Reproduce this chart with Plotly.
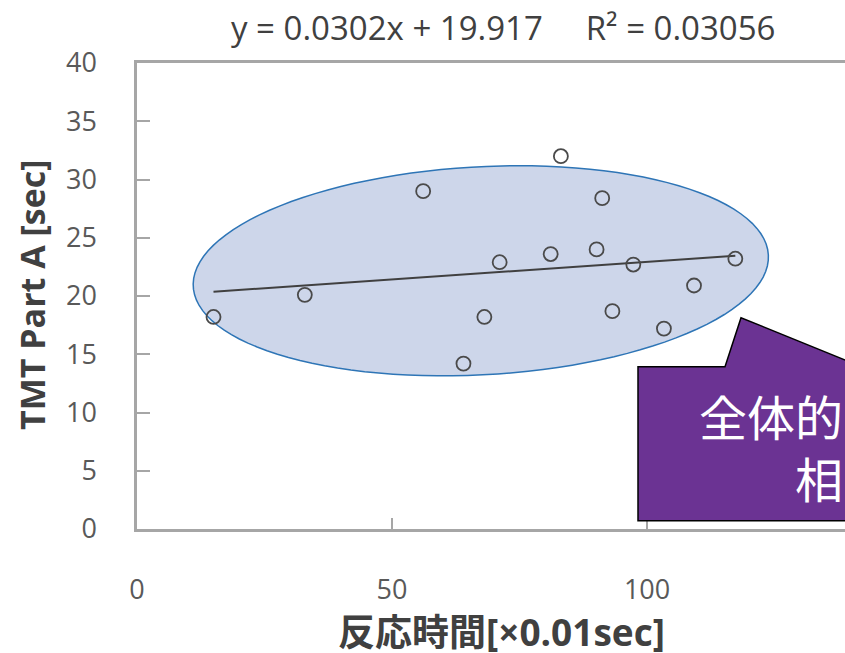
import numpy as np
import plotly.graph_objects as go

# Reaction time [x0.01 sec] vs. TMT Part A completion time [sec]
reaction_time = [15.0, 32.9, 56.1, 64.0, 68.1, 71.1, 81.1, 83.1, 90.1, 91.2, 93.2, 97.3, 103.3, 109.2, 117.3]
tmt_part_a = [18.2, 20.1, 29.0, 14.2, 18.2, 22.9, 23.6, 32.0, 24.0, 28.4, 18.7, 22.7, 17.2, 20.9, 23.2]

# Linear trendline as reported
slope = 0.0302
intercept = 19.917
r_squared = 0.03056

x_ticks = [0, 50, 100, 150]
y_ticks = [0, 5, 10, 15, 20, 25, 30, 35, 40]

W, H = 845, 653
L, T, PW, PH = 137, 63, 708, 466
X_MAX = 138.8


def px_x(p):
    return (p - L) / PW


def px_y(p):
    return (T + PH - p) / PH


fig = go.Figure()

# Highlight ellipse around the point cloud
cx, cy, a, b, ang = 480.8, 270.8, 288.0, 104.0, np.deg2rad(-3.16)
t = np.linspace(0, 2 * np.pi, 120)
ex = cx + a * np.cos(t) * np.cos(ang) - b * np.sin(t) * np.sin(ang)
ey = cy + a * np.cos(t) * np.sin(ang) + b * np.sin(t) * np.cos(ang)
path = "M " + " L ".join(f"{px_x(u):.5f},{px_y(v):.5f}" for u, v in zip(ex, ey)) + " Z"
fig.add_shape(type="path", path=path, xref="paper", yref="paper",
              fillcolor="#CDD6EA", line=dict(color="#2E75B6", width=1.5), layer="below")

# Trendline over the data range
xs = np.array([min(reaction_time), max(reaction_time)])
fig.add_trace(go.Scatter(x=xs, y=slope * xs + intercept, mode="lines",
                         line=dict(color="#404040", width=2), hoverinfo="skip", showlegend=False))

fig.add_trace(go.Scatter(x=reaction_time, y=tmt_part_a, mode="markers",
                         marker=dict(symbol="circle-open", size=14, color="#4a4a4a",
                                     line=dict(width=1.8, color="#4a4a4a")),
                         showlegend=False))

# Callout box
callout = [(638, 366.7), (725, 366.7), (741, 317.7), (861.5, 366.7),
           (1100, 366.7), (1100, 520.7), (638, 520.7)]
cpath = "M " + " L ".join(f"{px_x(u):.5f},{px_y(v):.5f}" for u, v in callout) + " Z"
fig.add_shape(type="path", path=cpath, xref="paper", yref="paper",
              fillcolor="#6B3393", line=dict(color="#000000", width=1.5), layer="above")
fig.add_annotation(text="全体的に弱い<br>相関", xref="paper", yref="paper",
                   x=px_x(697), y=px_y(446), xanchor="left", yanchor="middle",
                   align="center", showarrow=False,
                   font=dict(family="Noto Sans CJK JP", size=48, color="#FFFFFF"))

# Equation text
fig.add_annotation(text=f"y = {slope}x + {intercept}     R² = {r_squared}",
                   xref="paper", yref="paper", x=px_x(503), y=px_y(28),
                   xanchor="center", yanchor="middle", showarrow=False,
                   font=dict(family="Open Sans", size=33, color="#404040"))

# Axis titles
fig.add_annotation(text="<b>反応時間[×0.01sec]</b>", xref="paper", yref="paper",
                   x=px_x(501), y=px_y(631), xanchor="center", yanchor="middle",
                   showarrow=False,
                   font=dict(family="Open Sans, Noto Sans CJK JP", size=37, color="#404040"))
fig.add_annotation(text="<b>TMT Part A [sec]</b>", xref="paper", yref="paper",
                   x=px_x(32), y=px_y(295), xanchor="center", yanchor="middle",
                   textangle=-90, showarrow=False,
                   font=dict(family="Open Sans", size=34, color="#404040"))

fig.update_layout(
    width=W, height=H,
    margin=dict(l=L, r=W - L - PW, t=T, b=H - T - PH, pad=0),
    paper_bgcolor="white", plot_bgcolor="white",
    xaxis=dict(range=[0, X_MAX], tickvals=x_ticks, showgrid=False, zeroline=False,
               showline=True, mirror=True, linecolor="#A6A6A6", linewidth=2.5,
               ticks="inside", ticklen=11, tickwidth=1.5, tickcolor="#A6A6A6",
               ticklabelstandoff=35,
               tickfont=dict(family="Open Sans", size=27, color="#595959")),
    yaxis=dict(range=[0, 40], tickvals=y_ticks, showgrid=False, zeroline=False,
               showline=True, linecolor="#A6A6A6", linewidth=2.5,
               ticks="inside", ticklen=13, tickwidth=1.5, tickcolor="#A6A6A6",
               ticklabelstandoff=32,
               tickfont=dict(family="Open Sans", size=27, color="#595959")),
)

fig.write_html("out.html")
